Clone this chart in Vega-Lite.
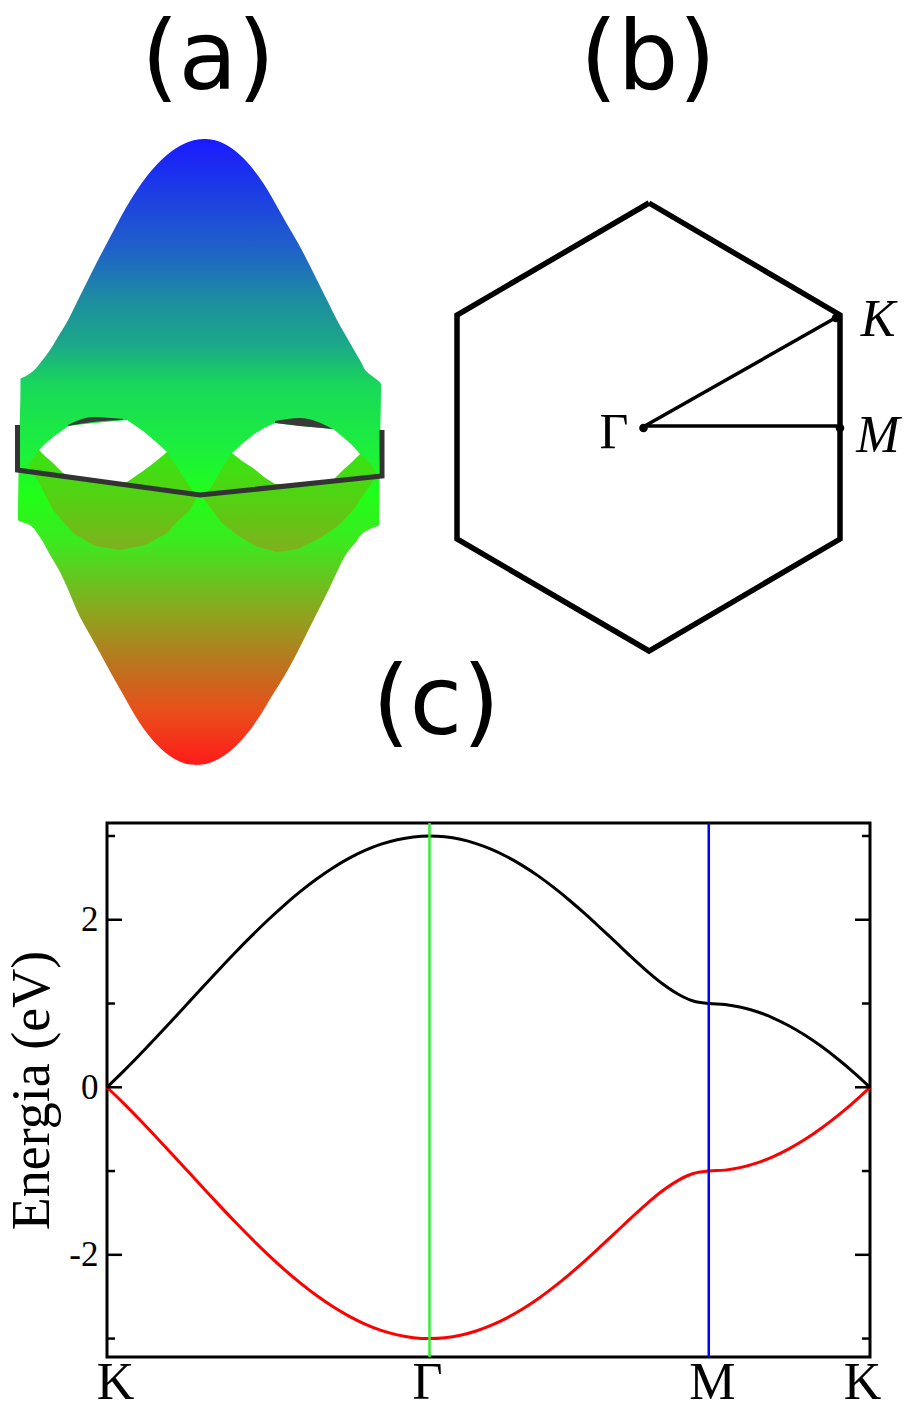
{
"$schema":"https://vega.github.io/schema/vega-lite/v6.json",
"padding":{"left":4,"top":0,"right":0,"bottom":0},
"background":"white",
"spacing":0,
"align":"none",
"vconcat":[
{
"width":797,"height":820,
"view":{"stroke":null},
"layer":[
{"data":{"values":[
{"y":139,"l":205,"r":205},{"y":139.5,"l":198,"r":211},{"y":141,"l":191.5,"r":217.4},{"y":144,"l":183.7,"r":224.6},{"y":148,"l":176.4,"r":231.3},{"y":155,"l":166.9,"r":240},{"y":165,"l":156.4,"r":249.7},{"y":177,"l":146.2,"r":259},{"y":190,"l":137,"r":267.6},{"y":207,"l":126.4,"r":277.3},{"y":225,"l":116.5,"r":287.5},{"y":243,"l":107,"r":298},{"y":262,"l":97,"r":308},{"y":282,"l":87,"r":318},{"y":302,"l":77,"r":328},{"y":322,"l":67,"r":338},{"y":336,"l":58.5,"r":346},{"y":350,"l":50,"r":354},{"y":362,"l":41,"r":361},{"y":372,"l":32,"r":367},{"y":376,"l":26,"r":372},{"y":379,"l":20.5,"r":376},{"y":384,"l":20.5,"r":381},{"y":450,"l":19,"r":380},{"y":520,"l":18,"r":379},{"y":525,"l":30,"r":379},{"y":528,"l":33.5,"r":372},{"y":533,"l":37,"r":363},{"y":542,"l":43,"r":356},{"y":553,"l":49,"r":347},{"y":572,"l":60,"r":337},{"y":587,"l":67,"r":330},{"y":617,"l":80,"r":315},{"y":635,"l":90,"r":306},{"y":653,"l":100,"r":297},{"y":675,"l":112,"r":285},{"y":697,"l":124.5,"r":271.3},{"y":715,"l":134.7,"r":260.5},{"y":733,"l":146.9,"r":247.6},{"y":745,"l":157.2,"r":236.8},{"y":755,"l":168.6,"r":224.9},{"y":760,"l":176.6,"r":216.4},{"y":763,"l":183.7,"r":208.9},{"y":764.5,"l":189.9,"r":202.5},{"y":765,"l":196,"r":196}
]},
"mark":{"type":"area","orient":"horizontal","interpolate":"monotone","color":{"gradient":"linear","x1":0,"y1":0,"x2":0,"y2":1,"stops":[{"offset":0,"color":"#1a1aff"},{"offset":0.177,"color":"#1f62c8"},{"offset":0.257,"color":"#1d8da0"},{"offset":0.329,"color":"#1ba888"},{"offset":0.393,"color":"#19d85a"},{"offset":0.497,"color":"#1cf03c"},{"offset":0.569,"color":"#20ff18"},{"offset":0.645,"color":"#3de820"},{"offset":0.752,"color":"#8aa81e"},{"offset":0.848,"color":"#c0701e"},{"offset":0.912,"color":"#e8501a"},{"offset":1,"color":"#ff1a1a"}]}},
"encoding":{"y":{"field":"y","type":"quantitative","scale":{"domain":[0,820],"nice":false,"zero":false,"range":[0,820]},"axis":null},"x":{"field":"l","type":"quantitative","scale":{"domain":[107,904],"nice":false,"zero":false},"axis":null},"x2":{"field":"r"}}},
{"data":{"values":[
{"c":"a","x":28,"t":465,"b":465},{"c":"a","x":39,"t":450,"b":483},{"c":"a","x":53,"t":450,"b":510},{"c":"a","x":73,"t":450,"b":533},{"c":"a","x":95,"t":450,"b":546},{"c":"a","x":120,"t":450,"b":550},{"c":"a","x":145,"t":450,"b":545},{"c":"a","x":167,"t":452,"b":533},{"c":"a","x":177,"t":467,"b":522},{"c":"a","x":190,"t":487,"b":510},{"c":"a","x":197,"t":497,"b":497},
{"c":"b","x":203,"t":498,"b":498},{"c":"b","x":212,"t":486,"b":510},{"c":"b","x":222,"t":468,"b":523},{"c":"b","x":232,"t":453,"b":531},{"c":"b","x":240,"t":453,"b":537},{"c":"b","x":258,"t":453,"b":547},{"c":"b","x":277,"t":453,"b":552},{"c":"b","x":298,"t":453,"b":549},{"c":"b","x":320,"t":453,"b":538},{"c":"b","x":338,"t":453,"b":526},{"c":"b","x":353,"t":453,"b":510},{"c":"b","x":360,"t":454,"b":500},{"c":"b","x":370,"t":463,"b":486},{"c":"b","x":377,"t":473,"b":473}
]},
"mark":{"type":"area","color":{"gradient":"linear","x1":0,"y1":0,"x2":0,"y2":1,"stops":[{"offset":0,"color":"#38e412"},{"offset":0.5,"color":"#55d012"},{"offset":1,"color":"#80b01e"}]}},
"encoding":{"x":{"field":"x","type":"quantitative"},"y":{"field":"t","type":"quantitative"},"y2":{"field":"b"},"detail":{"field":"c"}}},
{"data":{"values":[
{"c":"a","x":39,"t":450,"b":450},{"c":"a","x":46,"t":443,"b":457},{"c":"a","x":53,"t":437,"b":463},{"c":"a","x":63,"t":430,"b":473},{"c":"a","x":68,"t":426,"b":476},{"c":"a","x":85,"t":424,"b":479},{"c":"a","x":105,"t":422,"b":482},{"c":"a","x":127,"t":420,"b":482},{"c":"a","x":143,"t":431,"b":471},{"c":"a","x":155,"t":441,"b":462},{"c":"a","x":167,"t":452,"b":452},
{"c":"b","x":232,"t":453,"b":453},{"c":"b","x":242,"t":444,"b":461},{"c":"b","x":253,"t":435,"b":468},{"c":"b","x":264,"t":428,"b":477},{"c":"b","x":275,"t":423,"b":484},{"c":"b","x":300,"t":426,"b":484},{"c":"b","x":333,"t":429,"b":480},{"c":"b","x":343,"t":437,"b":470},{"c":"b","x":352,"t":445,"b":462},{"c":"b","x":360,"t":454,"b":454}
]},
"mark":{"type":"area","color":"white"},
"encoding":{"x":{"field":"x","type":"quantitative"},"y":{"field":"t","type":"quantitative"},"y2":{"field":"b"},"detail":{"field":"c"}}},
{"data":{"values":[
{"c":"a","x":68,"t":425,"b":426},{"c":"a","x":93,"t":417,"b":422},{"c":"a","x":123,"t":419,"b":420},
{"c":"b","x":275,"t":421,"b":423},{"c":"b","x":300,"t":418,"b":426},{"c":"b","x":333,"t":429,"b":429}
]},
"mark":{"type":"area","color":"#3a3a3a","interpolate":"monotone"},
"encoding":{"x":{"field":"x","type":"quantitative"},"y":{"field":"t","type":"quantitative"},"y2":{"field":"b"},"detail":{"field":"c"}}},
{"data":{"values":[
{"i":0,"x":17.5,"y":425},{"i":1,"x":17.5,"y":470},{"i":2,"x":200,"y":495},{"i":3,"x":382,"y":476},{"i":4,"x":382,"y":430}
]},
"mark":{"type":"line","color":"#333333","strokeWidth":5,"strokeJoin":"miter"},
"encoding":{"x":{"field":"x","type":"quantitative"},"y":{"field":"y","type":"quantitative"},"order":{"field":"i"}}},
{"data":{"values":[
{"s":"hex","i":0,"x":649,"y":203},{"s":"hex","i":1,"x":840,"y":315},{"s":"hex","i":2,"x":840,"y":539},{"s":"hex","i":3,"x":649,"y":651},{"s":"hex","i":4,"x":457,"y":539},{"s":"hex","i":5,"x":457,"y":315},{"s":"hex","i":6,"x":649,"y":203}
]},
"mark":{"type":"line","color":"black","strokeWidth":5.5,"strokeJoin":"miter"},
"encoding":{"x":{"field":"x","type":"quantitative"},"y":{"field":"y","type":"quantitative"},"order":{"field":"i"}}},
{"data":{"values":[
{"s":"GK","i":0,"x":643,"y":427},{"s":"GK","i":1,"x":837,"y":317},{"s":"GM","i":0,"x":643,"y":426},{"s":"GM","i":1,"x":840,"y":426}
]},
"mark":{"type":"line","color":"black","strokeWidth":3.5},
"encoding":{"x":{"field":"x","type":"quantitative"},"y":{"field":"y","type":"quantitative"},"detail":{"field":"s"},"order":{"field":"i"}}},
{"data":{"values":[{"x":643.5,"y":428},{"x":836,"y":318},{"x":840,"y":428}]},
"mark":{"type":"point","filled":true,"color":"black","size":75,"opacity":1},
"encoding":{"x":{"field":"x","type":"quantitative"},"y":{"field":"y","type":"quantitative"}}},
{"data":{"values":[{"t":"(a)","x":208,"y":89},{"t":"(b)","x":648,"y":89},{"t":"(c)","x":436,"y":734}]},
"mark":{"type":"text","font":"DejaVu Sans","fontSize":96,"align":"center","baseline":"alphabetic","color":"black"},
"encoding":{"x":{"field":"x","type":"quantitative"},"y":{"field":"y","type":"quantitative"},"text":{"field":"t"}}},
{"data":{"values":[{"t":"Γ","x":614,"y":448}]},
"mark":{"type":"text","font":"Liberation Serif","fontSize":50,"align":"center","baseline":"alphabetic","color":"black"},
"encoding":{"x":{"field":"x","type":"quantitative"},"y":{"field":"y","type":"quantitative"},"text":{"field":"t"}}},
{"data":{"values":[{"t":"K","x":878,"y":336},{"t":"M","x":878,"y":452}]},
"mark":{"type":"text","font":"Liberation Serif","fontStyle":"italic","fontSize":52,"align":"center","baseline":"alphabetic","color":"black"},
"encoding":{"x":{"field":"x","type":"quantitative"},"y":{"field":"y","type":"quantitative"},"text":{"field":"t"}}}
]
},
{
"width":763,"height":534,
"view":{"stroke":"black","strokeWidth":3},
"layer":[
{"data":{"values":[
{"b":"pi*","k":0,"e":0},{"b":"pi*","k":0.1,"e":0.1865},{"b":"pi*","k":0.2,"e":0.382},{"b":"pi*","k":0.3,"e":0.5842},{"b":"pi*","k":0.4,"e":0.791},{"b":"pi*","k":0.5,"e":1},{"b":"pi*","k":0.6,"e":1.209},{"b":"pi*","k":0.7,"e":1.4158},{"b":"pi*","k":0.8,"e":1.618},{"b":"pi*","k":0.9,"e":1.8135},{"b":"pi*","k":1,"e":2},{"b":"pi*","k":1.1,"e":2.1756},{"b":"pi*","k":1.2,"e":2.3383},{"b":"pi*","k":1.3,"e":2.4863},{"b":"pi*","k":1.4,"e":2.618},{"b":"pi*","k":1.5,"e":2.732},{"b":"pi*","k":1.6,"e":2.827},{"b":"pi*","k":1.7,"e":2.902},{"b":"pi*","k":1.8,"e":2.956},{"b":"pi*","k":1.9,"e":2.989},{"b":"pi*","k":2,"e":3},{"b":"pi*","k":2.096,"e":2.99},{"b":"pi*","k":2.192,"e":2.96},{"b":"pi*","k":2.289,"e":2.909},{"b":"pi*","k":2.385,"e":2.84},{"b":"pi*","k":2.481,"e":2.752},{"b":"pi*","k":2.577,"e":2.646},{"b":"pi*","k":2.674,"e":2.524},{"b":"pi*","k":2.77,"e":2.386},{"b":"pi*","k":2.866,"e":2.236},{"b":"pi*","k":2.962,"e":2.075},{"b":"pi*","k":3.058,"e":1.906},{"b":"pi*","k":3.155,"e":1.732},{"b":"pi*","k":3.251,"e":1.558},{"b":"pi*","k":3.347,"e":1.391},{"b":"pi*","k":3.443,"e":1.239},{"b":"pi*","k":3.54,"e":1.114},{"b":"pi*","k":3.636,"e":1.03},{"b":"pi*","k":3.732,"e":1},{"b":"pi*","k":3.832,"e":0.989},{"b":"pi*","k":3.932,"e":0.956},{"b":"pi*","k":4.032,"e":0.902},{"b":"pi*","k":4.132,"e":0.827},{"b":"pi*","k":4.232,"e":0.732},{"b":"pi*","k":4.332,"e":0.618},{"b":"pi*","k":4.432,"e":0.486},{"b":"pi*","k":4.532,"e":0.338},{"b":"pi*","k":4.632,"e":0.176},{"b":"pi*","k":4.732,"e":0},
{"b":"pi","k":0,"e":0},{"b":"pi","k":0.1,"e":-0.1865},{"b":"pi","k":0.2,"e":-0.382},{"b":"pi","k":0.3,"e":-0.5842},{"b":"pi","k":0.4,"e":-0.791},{"b":"pi","k":0.5,"e":-1},{"b":"pi","k":0.6,"e":-1.209},{"b":"pi","k":0.7,"e":-1.4158},{"b":"pi","k":0.8,"e":-1.618},{"b":"pi","k":0.9,"e":-1.8135},{"b":"pi","k":1,"e":-2},{"b":"pi","k":1.1,"e":-2.1756},{"b":"pi","k":1.2,"e":-2.3383},{"b":"pi","k":1.3,"e":-2.4863},{"b":"pi","k":1.4,"e":-2.618},{"b":"pi","k":1.5,"e":-2.732},{"b":"pi","k":1.6,"e":-2.827},{"b":"pi","k":1.7,"e":-2.902},{"b":"pi","k":1.8,"e":-2.956},{"b":"pi","k":1.9,"e":-2.989},{"b":"pi","k":2,"e":-3},{"b":"pi","k":2.096,"e":-2.99},{"b":"pi","k":2.192,"e":-2.96},{"b":"pi","k":2.289,"e":-2.909},{"b":"pi","k":2.385,"e":-2.84},{"b":"pi","k":2.481,"e":-2.752},{"b":"pi","k":2.577,"e":-2.646},{"b":"pi","k":2.674,"e":-2.524},{"b":"pi","k":2.77,"e":-2.386},{"b":"pi","k":2.866,"e":-2.236},{"b":"pi","k":2.962,"e":-2.075},{"b":"pi","k":3.058,"e":-1.906},{"b":"pi","k":3.155,"e":-1.732},{"b":"pi","k":3.251,"e":-1.558},{"b":"pi","k":3.347,"e":-1.391},{"b":"pi","k":3.443,"e":-1.239},{"b":"pi","k":3.54,"e":-1.114},{"b":"pi","k":3.636,"e":-1.03},{"b":"pi","k":3.732,"e":-1},{"b":"pi","k":3.832,"e":-0.989},{"b":"pi","k":3.932,"e":-0.956},{"b":"pi","k":4.032,"e":-0.902},{"b":"pi","k":4.132,"e":-0.827},{"b":"pi","k":4.232,"e":-0.732},{"b":"pi","k":4.332,"e":-0.618},{"b":"pi","k":4.432,"e":-0.486},{"b":"pi","k":4.532,"e":-0.338},{"b":"pi","k":4.632,"e":-0.176},{"b":"pi","k":4.732,"e":0}
]},
"mark":{"type":"line","strokeWidth":3,"interpolate":"monotone"},
"encoding":{
"x":{"field":"k","type":"quantitative","scale":{"domain":[0,4.732],"nice":false,"zero":false},
"axis":{"title":null,"values":[0.05,1.985,3.752,4.682],"labelExpr":"datum.value<0.1||datum.value>4?'K':(datum.value<3?'Γ':'M')","labelFont":"Liberation Serif","labelFontSize":52,"labelColor":"black","labelPadding":0,"labelAngle":0,"labelOverlap":false,"labelBound":false,"labelFlush":false,"ticks":false,"domain":false,"grid":false}},
"y":{"field":"e","type":"quantitative","scale":{"domain":[-3.22,3.155],"nice":false,"zero":false},
"axis":{"title":"Energia (eV)","values":[-2,0,2],"labelExpr":"''+datum.value","labelFont":"Liberation Serif","labelFontSize":35,"labelColor":"black","labelPadding":9,"ticks":false,"domain":false,"grid":false,"titleFont":"Liberation Serif","titleFontSize":54,"titleFontWeight":"normal","titleColor":"black","titlePadding":9}},
"color":{"field":"b","type":"nominal","scale":{"domain":["pi*","pi"],"range":["black","#ff0000"]},"legend":null}}},
{"data":{"values":[{"p":"Γ","k":2,"c":"#33ee33"},{"p":"M","k":3.732,"c":"#0000ff"}]},
"mark":{"type":"rule","strokeWidth":2.5},
"encoding":{"x":{"field":"k","type":"quantitative"},"stroke":{"field":"c","type":"nominal","scale":null}}},
{"data":{"values":[
{"v":-3,"a":0,"z":0.05},{"v":-2,"a":0,"z":0.093},{"v":-1,"a":0,"z":0.05},{"v":0,"a":0,"z":0.093},{"v":1,"a":0,"z":0.05},{"v":2,"a":0,"z":0.093},{"v":3,"a":0,"z":0.05},
{"v":-3,"a":4.732,"z":4.682},{"v":-2,"a":4.732,"z":4.639},{"v":-1,"a":4.732,"z":4.682},{"v":0,"a":4.732,"z":4.639},{"v":1,"a":4.732,"z":4.682},{"v":2,"a":4.732,"z":4.639},{"v":3,"a":4.732,"z":4.682}
]},
"mark":{"type":"rule","strokeWidth":2.5,"color":"black"},
"encoding":{"x":{"field":"a","type":"quantitative"},"x2":{"field":"z"},"y":{"field":"v","type":"quantitative"}}}
]
}
]
}
